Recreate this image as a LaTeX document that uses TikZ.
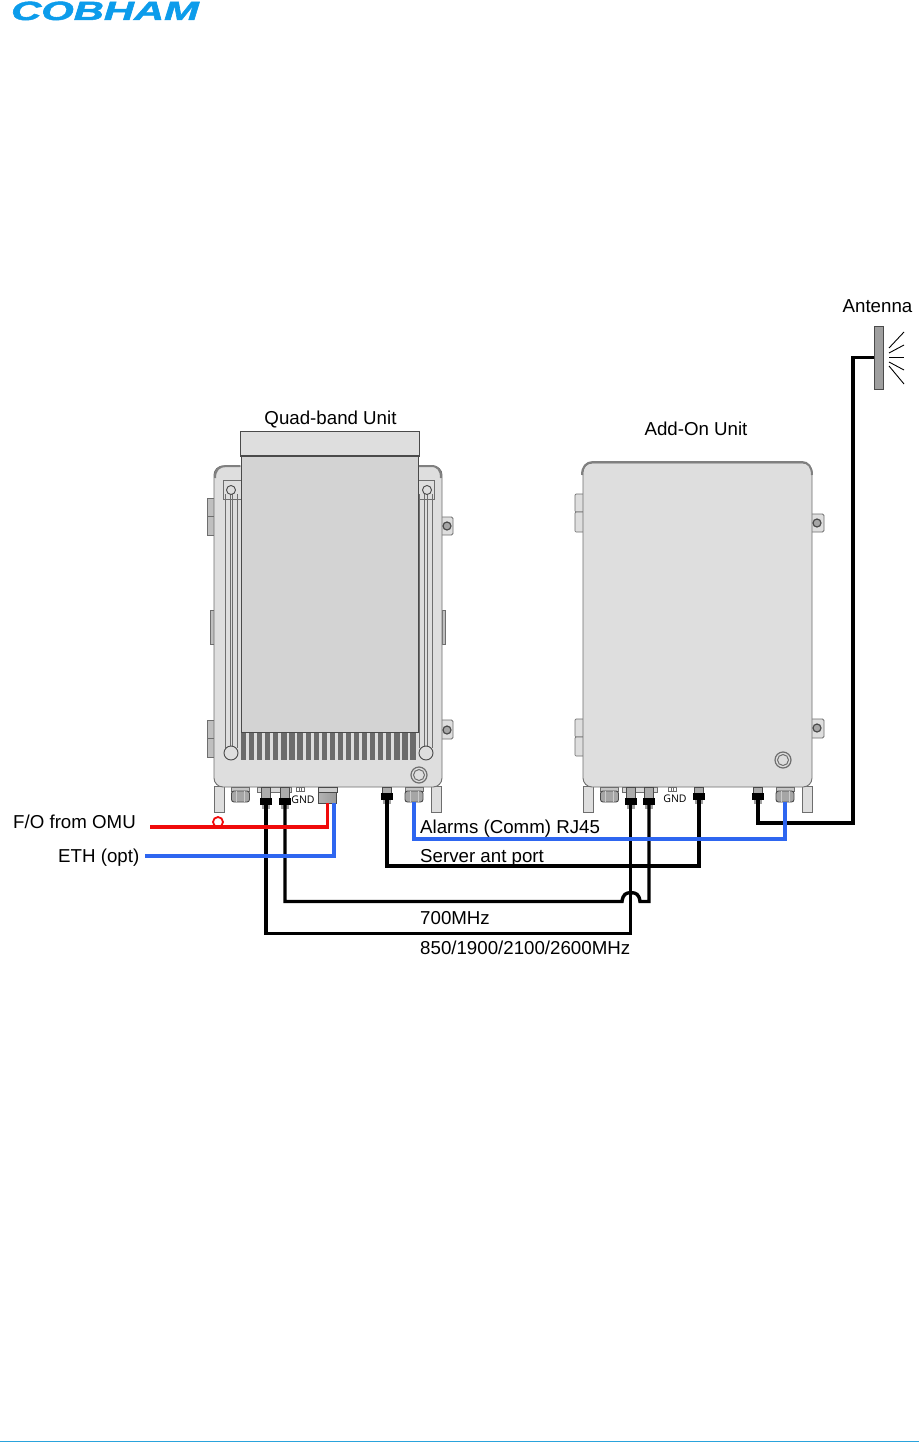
\documentclass[tikz,border=0pt]{standalone}
\usepackage{fontspec}
\setmainfont{Liberation Sans}
\newfontfamily\gndfont{Open Sans}
\newfontfamily\logofont[FakeBold=1.6]{Liberation Sans Bold Italic}
\definecolor{bodyfill}{HTML}{DEDEDE}
\definecolor{sinkfill}{HTML}{D3D3D3}
\definecolor{edge}{HTML}{6E6E6E}
\definecolor{darkedge}{HTML}{4A4A4A}
\definecolor{finfill}{HTML}{6C6C6C}
\definecolor{logoblue}{HTML}{0C9CEB}
\definecolor{footblue}{HTML}{2AA3DC}
\definecolor{wireblue}{HTML}{2E66F0}
\definecolor{wirered}{HTML}{F00A0A}
\tikzset{
  panel/.style={fill=bodyfill,draw=edge,line width=0.9pt},
  sink/.style={fill=sinkfill,draw=darkedge,line width=0.9pt},
  railline/.style={draw=edge,line width=0.9pt},
  label/.style={font=\fontsize{18.7}{20}\selectfont,inner sep=0pt,anchor=base west,text=black},
  clabel/.style={font=\fontsize{18.7}{20}\selectfont,inner sep=0pt,anchor=base,text=black},
  gndlabel/.style={font=\gndfont\fontsize{10.5}{11}\selectfont,inner sep=0pt,text=black},
  coax/.style={draw=black,line width=3.4pt,line join=miter},
  rayline/.style={draw=black,line width=0.9pt},
  bluewire/.style={draw=wireblue,line width=3.2pt},
  redwire/.style={draw=wirered,line width=3.8pt},
  connbody/.style={fill=black,draw=none,minimum width=12pt,minimum height=7pt,inner sep=0pt},
  glandbody/.style={fill=gray!70,draw=darkedge,line width=0.9pt,rounded corners=2.5pt,minimum width=18pt,minimum height=11pt,inner sep=0pt},
  screwhead/.style={circle,fill=gray!70,draw=darkedge,line width=1.2pt,minimum size=8pt,inner sep=0pt},
  knobhead/.style={circle,fill=bodyfill,draw=edge,line width=1.2pt,minimum size=16pt,inner sep=0pt},
  boltcircle/.style={circle,fill=bodyfill,draw=darkedge,line width=0.9pt,inner sep=0pt},
}
% name, x, y of black body : N connector, top at y=787
\newcommand{\nconn}[3]{%
  \filldraw[fill=gray!65,draw=darkedge,line width=0.5pt] (#2-4.5,787) rectangle (#2+4.5,#3-3);
  \fill[gray!75] (#2-4,#3+3.5) rectangle (#2+4,#3+7);
  \node[connbody] (#1) at (#2,#3) {};
}
% name, x : cable gland
\newcommand{\cgland}[2]{%
  \filldraw[fill=gray!45,draw=edge,line width=0.6pt] (#2-9,787) rectangle (#2+9,791);
  \node[glandbody] (#1) at (#2,796.5) {};
  \draw[gray!40,line width=0.5pt] (#2-4,791) -- (#2-4,802) (#2+4,791) -- (#2+4,802);
}
\newcommand{\gndmark}[1]{%
  \draw[edge,line width=0.4pt,fill=white] (#1,787) rectangle (#1+8,791.5);
  \draw[edge,line width=0.4pt] (#1+2.7,787) -- (#1+2.7,791.5) (#1+5.4,787) -- (#1+5.4,791.5);
}
\begin{document}
\begin{tikzpicture}[x=1pt,y=-1pt]
\useasboundingbox (0,0) rectangle (919,1442);
\fill[white] (0,0) rectangle (919,1442);
% logo
\node[inner sep=0pt,anchor=base west,text=logoblue] (logo) at (11,20)
  {\scalebox{1.58}[1]{\logofont\fontsize{26.4}{28}\selectfont COBHAM}};
% footer rule
\draw[footblue,line width=1.2pt] (0,1441.2) -- (919,1441.2);

% ---------- Quad-band unit ----------
\foreach \xa/\xb/\ya/\yb in {207/214/498/516,207/214/516/535,207/214/720/738,207/214/738/757,210/214/610/644,442/445/610/644}
  \filldraw[fill=gray!50,draw=edge,line width=0.7pt] (\xa,\ya) rectangle (\xb,\yb);
\foreach \ya/\yb in {517/535,720/739}
  \filldraw[fill=bodyfill,draw=edge,line width=0.8pt,rounded corners=1.5pt] (438,\ya) rectangle (453,\yb);
\filldraw[panel] (214,786) rectangle (224,812);
\filldraw[panel] (431,786) rectangle (441,812);
\filldraw[panel,rounded corners=9pt] (214,466) rectangle (442,787);
\draw[gray,line width=2pt] (215,478) .. controls (215,470) and (219,466) .. (226,466) -- (240,466);
\draw[gray,line width=2pt] (419,466) -- (431,466) .. controls (438,466) and (441,470) .. (441,478);
% rails
\filldraw[fill=bodyfill,draw=edge,line width=0.8pt] (223,480) rectangle (241,499);
\filldraw[fill=bodyfill,draw=edge,line width=0.8pt] (417,480) rectangle (434,499);
\foreach \x in {225,230,232,237,419,424,427,432}
  \draw[railline] (\x,494) -- (\x,748);
\node[boltcircle,minimum size=9pt] (qbolta) at (231,490) {};
\node[boltcircle,minimum size=9pt] (qboltb) at (427,490) {};
\node[boltcircle,minimum size=14pt] (qboltc) at (231,753) {};
\node[boltcircle,minimum size=14pt] (qboltd) at (426,753) {};
% heat sink
\filldraw[sink] (241,456) rectangle (418,732);
\filldraw[fill=bodyfill,draw=darkedge,line width=0.9pt] (240,431) rectangle (419,456);
\draw[darkedge,line width=1.6pt] (240,456) -- (419,456);
\foreach \i in {0,...,21}
  \fill[finfill] ({241+\i*8.07},733) rectangle ({246.2+\i*8.07},760);
\node[knobhead] (qknob) at (419,775) {};
\draw[edge,line width=1pt] (419,775) circle (5.5pt);
% right tab screws
\node[screwhead] (qscrewa) at (447,526) {};
\node[screwhead] (qscrewb) at (447,730) {};
% connectors
\cgland{qglandl}{240.5}
\filldraw[fill=gray!30,draw=edge,line width=0.6pt] (257,787) rectangle (291,792);
\nconn{qna}{266}{801.5}
\nconn{qnb}{285}{801.5}
\gndmark{296}
\node[gndlabel] (qgnd) at (303,800) {GND};
\filldraw[fill=gray!40,draw=darkedge,line width=0.6pt] (318,787) rectangle (337,792);
\node[left color=gray!60,middle color=gray!40,right color=gray!80,draw=darkedge,line width=0.6pt,minimum width=18pt,minimum height=11pt,inner sep=0pt] (qfo) at (327.5,797.5) {};
\nconn{qnc}{387}{796.5}
\cgland{qglandr}{414}

% ---------- Add-on unit ----------
\foreach \ya/\yb in {494/512,512/532,719/737,737/756}
  \filldraw[fill=bodyfill,draw=edge,line width=0.7pt,rounded corners=1pt] (575,\ya) rectangle (584,\yb);
\foreach \ya/\yb in {514/532,719/738}
  \filldraw[fill=bodyfill,draw=edge,line width=0.8pt,rounded corners=1.5pt] (808,\ya) rectangle (824,\yb);
\filldraw[panel] (583,786) rectangle (593,812);
\filldraw[panel] (802,786) rectangle (812,812);
\filldraw[panel,rounded corners=9pt] (583,463) rectangle (812,787);
\draw[gray,line width=2pt] (582,475) .. controls (582,467) and (586,462) .. (593,462) -- (802,462) .. controls (808,462) and (812,467) .. (812,475);
\node[screwhead] (ascrewa) at (817,523) {};
\node[screwhead] (ascrewb) at (817,728) {};
\node[knobhead] (aknob) at (783,760) {};
\draw[edge,line width=1pt] (783,760) circle (5.5pt);
\cgland{aglandl}{609.5}
\filldraw[fill=gray!30,draw=edge,line width=0.6pt] (622,787) rectangle (657,792);
\nconn{ana}{630.5}{801.5}
\nconn{anb}{649}{801.5}
\gndmark{668}
\node[gndlabel] (agnd) at (675,799) {GND};
\nconn{anc}{699}{796.5}
\nconn{ane}{758}{796.5}
\cgland{aglandr}{785}

% ---------- Antenna ----------
\node[fill=gray!75,draw=darkedge,line width=0.8pt,minimum width=9pt,minimum height=63pt,inner sep=0pt] (ant) at (878.5,357.5) {};
\coordinate (rayo) at (889,357);
\draw[rayline] (889,348) -- (904,332);
\draw[rayline] (889,353) -- (904,345);
\draw[rayline] (rayo) -- (904,357);
\draw[rayline] (889,362) -- (904,370);
\draw[rayline] (889,366) -- (904,384);

% ---------- Wires ----------
\coordinate (fostart) at (150,827);
\coordinate (ethstart) at (145,856);
\coordinate (jumpa) at (622,901.5);
\coordinate (jumpb) at (640,901.5);
\coordinate (antdrop) at (853,823);
\draw[coax] (qna.south) |- (630.5,933.5) -- (ana.south);
\draw[coax] (qnc.south) |- (699,866) -- (anc.south);
\draw[coax] (qnb.south) |- (jumpa) .. controls (623,894) and (626,892.7) .. (631,892.7) .. controls (636,892.7) and (639,894) .. (jumpb) -- (649,901.5) -- (anb.south);
\draw[coax] (ane.south) |- (antdrop) |- (ant.west);
\draw[bluewire] (qglandr.south) |- (785,839) -- (aglandr.south);
\draw[redwire] (fostart) -| (qfo.south);
\draw[wirered,line width=1.8pt] (218,822) circle (5pt);
\coordinate (ethend) at (334,803);
\draw[bluewire] (ethstart) -| (ethend);

% ---------- Labels ----------
\node[clabel] (tq) at (330.5,424.5) {Quad-band Unit};
\node[clabel] (ta) at (696,435.5) {Add-On Unit};
\node[clabel] (tant) at (877.5,312) {Antenna};
\node[label] (tfo) at (13,828.5) {F/O from OMU};
\node[label] (teth) at (58,862.5) {ETH (opt)};
\node[label] (tal) at (420,833.5) {Alarms (Comm) RJ45};
\node[label] (tsrv) at (420,862) {Server ant port};
\node[label] (t700) at (420,924.5) {700MHz};
\node[label] (t850) at (420,954.5) {850/1900/2100/2600MHz};
\end{tikzpicture}
\end{document}
